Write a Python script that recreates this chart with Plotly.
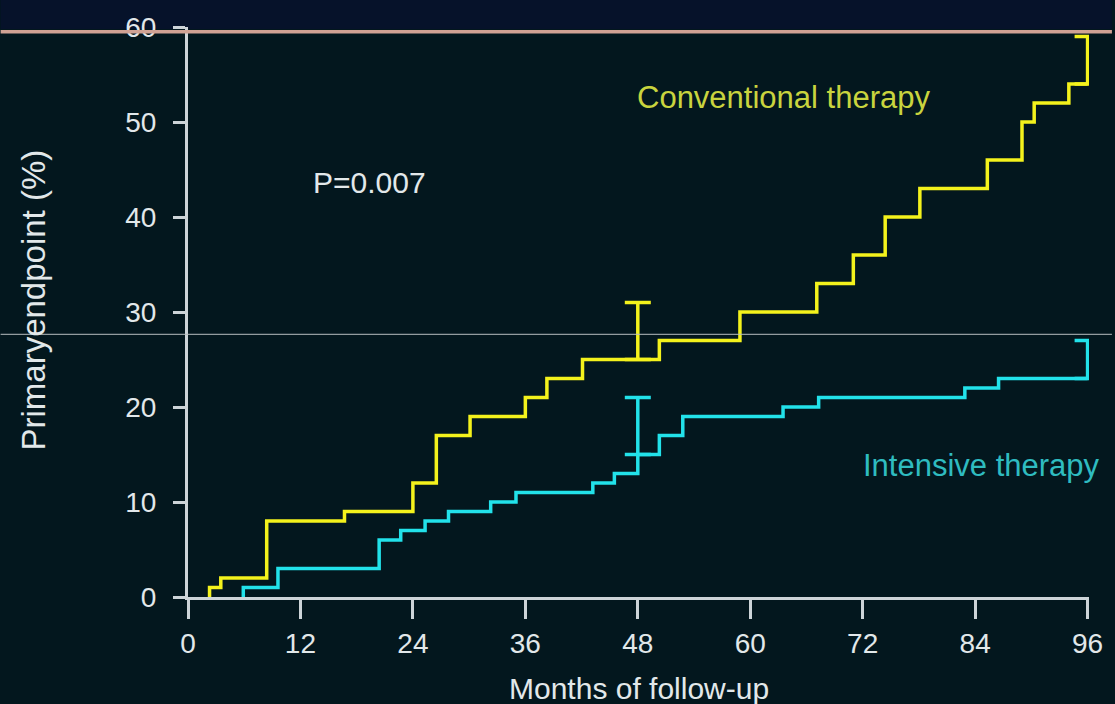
import numpy as np
import plotly.graph_objects as go

# Cumulative incidence of the primary endpoint (%): month where each step starts, and its level
conv_months = [2.3, 2.3, 3.5, 8.4, 16.7, 24.0, 26.5, 30.1, 36.0, 38.3, 42.1, 50.3,
               58.9, 67.1, 71.0, 74.4, 78.1, 85.3, 89.0, 90.3, 94.0, 96.0]
conv_pct = [0, 1, 2, 8, 9, 12, 17, 19, 21, 23, 25, 27,
            30, 33, 36, 40, 43, 46, 50, 52, 54, 54]

int_months = [5.9, 5.9, 9.6, 20.4, 22.7, 25.3, 27.8, 32.3, 35.0, 43.2, 45.5, 48.0,
              50.3, 52.8, 63.5, 67.3, 82.9, 86.5, 96.0]
int_pct = [0, 1, 3, 6, 7, 8, 9, 10, 11, 12, 13, 15,
           17, 19, 20, 21, 22, 23, 23]

# Upper confidence limits drawn at 48 and 96 months
ci_months = [48, 96]
conv_upper = [31, 59]
int_upper = [21, 27]

x_ticks = [0, 12, 24, 36, 48, 60, 72, 84, 96]
y_ticks = [0, 10, 20, 30, 40, 50, 60]

W, H = 1115, 704
ML, MR, MT, MB = 188, 23, 27, 107
PW, PH = W - ML - MR, H - MT - MB

BG = "#03171e"
AXIS = "#cdd4d8"
TEXT = "#e2e8ea"
YELLOW = "#f4f21c"
CYAN = "#22e2ea"
FONT = "Liberation Sans, Arial, sans-serif"


def px_x(px):
    return (px - ML) / PW


def px_y(py):
    return 1 - (py - MT) / PH


def level_at(months, pct, m):
    idx = np.searchsorted(np.asarray(months), m, side="right") - 1
    return pct[idx]


conv_base = [level_at(conv_months, conv_pct, m) for m in ci_months]
int_base = [level_at(int_months, int_pct, m) for m in ci_months]

fig = go.Figure()

for months, pct, color in [(conv_months, conv_pct, YELLOW), (int_months, int_pct, CYAN)]:
    fig.add_trace(go.Scatter(
        x=months, y=pct, mode="lines", line=dict(color=color, width=3.5, shape="hv"),
        hoverinfo="skip", showlegend=False,
    ))

for base, upper, color in [(conv_base, conv_upper, YELLOW), (int_base, int_upper, CYAN)]:
    fig.add_trace(go.Scatter(
        x=ci_months, y=base, mode="markers", marker=dict(size=1, opacity=0),
        error_y=dict(type="data", symmetric=False,
                     array=[u - b for u, b in zip(upper, base)],
                     arrayminus=[0] * len(base),
                     color=color, thickness=3.5, width=13),
        hoverinfo="skip", showlegend=False,
    ))


def label(text, x, y, size, color, xref="x", yref="y", angle=0):
    return dict(text=text, x=x, y=y, xref=xref, yref=yref, xanchor="center",
                yanchor="middle", textangle=angle, showarrow=False,
                font=dict(color=color, size=size, family=FONT))


annotations = [
    label("Conventional therapy", 63.5, 52.6, 31, "#c9d43e"),
    label("Intensive therapy", 84.7, 13.8, 31, "#2fbcc0"),
    label("P=0.007", 19.4, 43.6, 30, TEXT),
    label("Months of follow-up", px_x(640), px_y(688), 30, TEXT, "paper", "paper"),
    label("Primaryendpoint (%)", px_x(33), px_y(300), 33, TEXT, "paper", "paper", -90),
]

shapes = [
    # dark band across the top of the slide
    dict(type="rect", xref="paper", yref="paper", x0=px_x(0), x1=px_x(W),
         y0=px_y(29), y1=px_y(0), fillcolor="#06122a", line=dict(width=0), layer="below"),
    # header rule
    dict(type="line", xref="paper", yref="paper", x0=px_x(0), x1=px_x(W),
         y0=px_y(31.7), y1=px_y(31.7), line=dict(color="#d0a294", width=3.5)),
    # thin rule across the middle
    dict(type="line", xref="paper", yref="paper", x0=px_x(0), x1=px_x(W),
         y0=px_y(334.3), y1=px_y(334.3), line=dict(color="#b8bec0", width=1)),
]

fig.update_layout(
    width=W, height=H,
    margin=dict(l=ML, r=MR, t=MT, b=MB),
    paper_bgcolor=BG, plot_bgcolor=BG,
    font=dict(family=FONT, color=TEXT),
    annotations=annotations, shapes=shapes,
)

fig.update_xaxes(
    range=[0, 96.15], tickvals=x_ticks, ticktext=[str(v) for v in x_ticks],
    showgrid=False, zeroline=False, showline=True, linecolor=AXIS, linewidth=3,
    ticks="outside", ticklen=19, tickwidth=3, tickcolor=AXIS,
    tickfont=dict(size=28, color=TEXT, family=FONT), ticklabelstandoff=0,
)
fig.update_yaxes(
    range=[0, 60], tickvals=y_ticks, ticktext=[str(v) for v in y_ticks],
    showgrid=False, zeroline=False, showline=True, linecolor=AXIS, linewidth=3,
    ticks="outside", ticklen=12, tickwidth=3, tickcolor=AXIS,
    tickfont=dict(size=28, color=TEXT, family=FONT), ticklabelstandoff=11,
)

fig.write_html("out.html")
